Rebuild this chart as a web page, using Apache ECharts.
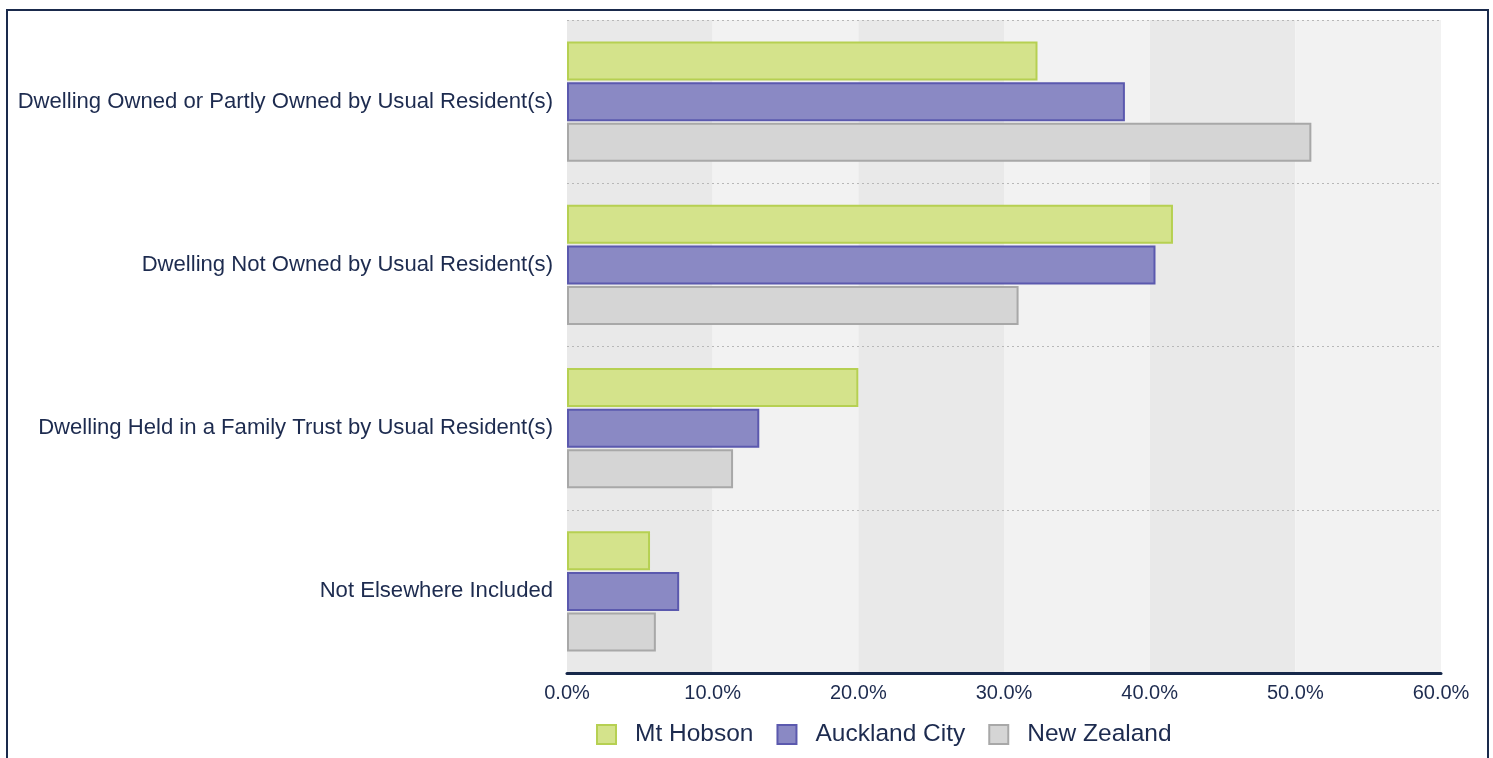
<!DOCTYPE html>
<html>
<head>
<meta charset="utf-8">
<script src="https://cdn.jsdelivr.net/npm/echarts@6/dist/echarts.min.js"></script>
<style>
html,body{margin:0;padding:0;background:#fff;}
#chart{width:1493px;height:758px;}
</style>
</head>
<body>
<div id="chart"></div>
<script>
const categories = [
  "Dwelling Owned or Partly Owned by Usual Resident(s)",
  "Dwelling Not Owned by Usual Resident(s)",
  "Dwelling Held in a Family Trust by Usual Resident(s)",
  "Not Elsewhere Included"
];
const mtHobson = [32.3, 41.6, 20.0, 5.7];
const aucklandCity = [38.3, 40.4, 13.2, 7.7];
const newZealand = [51.1, 31.0, 11.4, 6.1];
const seriesNames = ["Mt Hobson", "Auckland City", "New Zealand"];

const navy = '#1d2b4f';
const font = "'Liberation Sans', Arial, Helvetica, sans-serif";

const chart = echarts.init(document.getElementById('chart'), null, {renderer: 'canvas'});

function barSeries(name, data, fill, border) {
  return {
    name: name,
    type: 'bar',
    data: data,
    xAxisIndex: 0,
    barWidth: 39,
    barGap: '4%',
    itemStyle: {color: fill, borderColor: border, borderWidth: 2},
    emphasis: {disabled: true},
    z: 3
  };
}

chart.setOption({
  animation: false,
  textStyle: {fontFamily: font},
  graphic: [{
    type: 'rect',
    shape: {x: 7, y: 10, width: 1481, height: 800},
    style: {fill: 'none', stroke: '#1a2a4c', lineWidth: 2},
    silent: true,
    z: 100
  }],
  grid: {left: 567, right: 52, top: 20, bottom: 85, containLabel: false},
  legend: {
    left: 591,
    top: 717,
    itemWidth: 19,
    itemHeight: 19,
    itemGap: 23,
    icon: 'rect',
    data: seriesNames,
    textStyle: {color: navy, fontSize: 24.5, fontFamily: font, padding: [0, 0, 0, 14]}
  },
  xAxis: [{
    type: 'value',
    position: 'bottom',
    min: 0,
    max: 60,
    interval: 10,
    z: 0,
    axisLine: {show: false},
    axisTick: {show: false},
    splitLine: {show: false},
    splitArea: {show: true, areaStyle: {color: ['#e9e9e9', '#f2f2f2']}},
    axisLabel: {show: false}
  }, {
    type: 'value',
    position: 'bottom',
    offset: 0,
    min: 0,
    max: 60,
    interval: 10,
    z: 5,
    axisLine: {show: true, lineStyle: {color: '#17284a', width: 3}},
    axisTick: {show: false},
    splitLine: {show: false},
    splitArea: {show: false},
    axisLabel: {
      color: navy,
      fontSize: 20,
      fontFamily: font,
      margin: 10,
      formatter: function (v) { return v.toFixed(1) + '%'; }
    }
  }],
  yAxis: {
    type: 'category',
    data: categories,
    inverse: true,
    z: 2,
    axisLine: {show: false},
    axisTick: {show: false},
    splitLine: {show: true, lineStyle: {color: '#b8b8b8', type: [2, 3], width: 1}},
    axisLabel: {color: navy, fontSize: 22.1, fontFamily: font, margin: 14}
  },
  series: [
    barSeries(seriesNames[0], mtHobson, '#d4e38b', '#b6d052'),
    barSeries(seriesNames[1], aucklandCity, '#8a89c4', '#5b59ae'),
    barSeries(seriesNames[2], newZealand, '#d5d5d5', '#a8a8a8')
  ]
});
</script>
</body>
</html>
